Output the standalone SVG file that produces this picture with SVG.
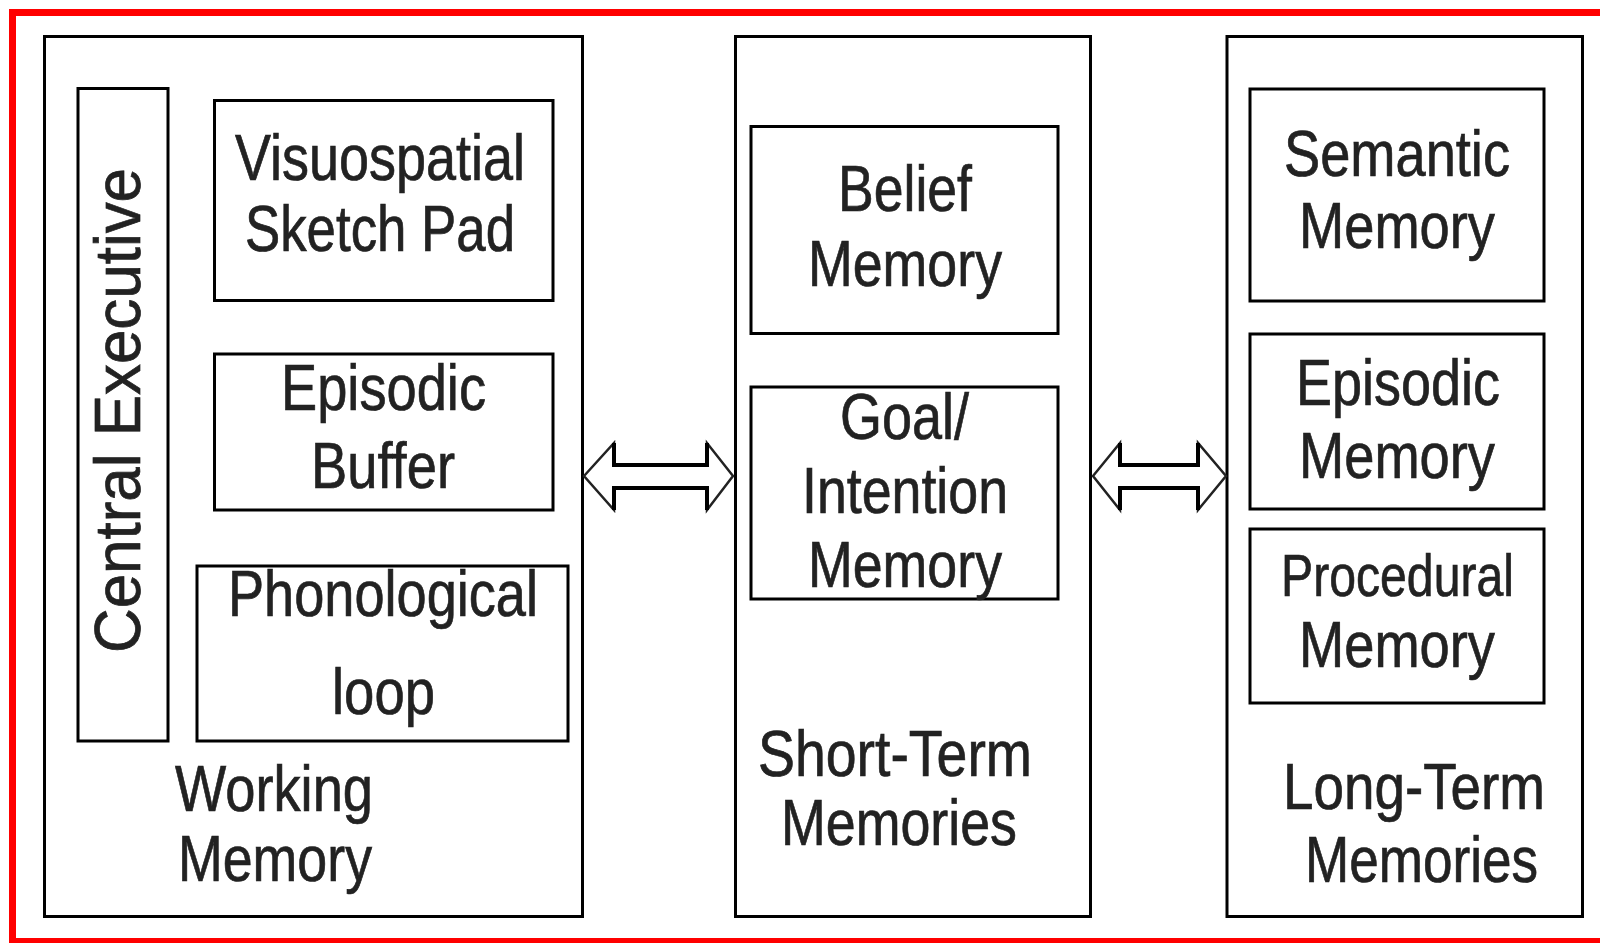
<svg xmlns="http://www.w3.org/2000/svg" width="1600" height="943" viewBox="0 0 1600 943">
<style>
.box{fill:none;stroke:#000;stroke-width:3}
.frame{fill:none;stroke:#ff0000;stroke-width:7}
.t{font-family:"Liberation Sans",Arial,sans-serif;font-size:65px;fill:#222;stroke:#222;stroke-width:0.7}
.arrow{fill:#fff;stroke:#222;stroke-width:2.5;stroke-linejoin:miter}
.shaft{stroke:#000;stroke-width:4;fill:none}
</style>
<rect x="0" y="0" width="1600" height="943" fill="#fff"/>
<rect class="frame" x="12.5" y="12.5" width="1600" height="929"/>

<g id="working-memory">
<rect class="box" x="44.5" y="36.5" width="538" height="880"/>
<text class="t" x="175" y="811" textLength="198" lengthAdjust="spacingAndGlyphs">Working</text>
<text class="t" x="178" y="881" textLength="194" lengthAdjust="spacingAndGlyphs">Memory</text>
</g>
<g id="central-executive">
<rect class="box" x="78" y="88.5" width="90" height="652.5"/>
<text class="t" transform="translate(140,653) rotate(-90)" x="0" y="0" textLength="485" lengthAdjust="spacingAndGlyphs">Central Executive</text>
</g>
<g id="visuospatial">
<rect class="box" x="214.5" y="100.5" width="338.5" height="200"/>
<text class="t" x="235" y="180" textLength="290" lengthAdjust="spacingAndGlyphs">Visuospatial</text>
<text class="t" x="245" y="251" textLength="270" lengthAdjust="spacingAndGlyphs">Sketch Pad</text>
</g>
<g id="episodic-buffer">
<rect class="box" x="214.5" y="354" width="338.5" height="156"/>
<text class="t" x="281" y="410" textLength="205" lengthAdjust="spacingAndGlyphs">Episodic</text>
<text class="t" x="311" y="488" textLength="144" lengthAdjust="spacingAndGlyphs">Buffer</text>
</g>
<g id="phonological-loop">
<rect class="box" x="197" y="566" width="371" height="175"/>
<text class="t" x="228" y="616" textLength="310" lengthAdjust="spacingAndGlyphs">Phonological</text>
<text class="t" x="332" y="714" textLength="103" lengthAdjust="spacingAndGlyphs">loop</text>
</g>

<g id="short-term">
<rect class="box" x="735.5" y="36.5" width="355" height="880"/>
<text class="t" x="758" y="776" textLength="274" lengthAdjust="spacingAndGlyphs">Short-Term</text>
<text class="t" x="781" y="845" textLength="236" lengthAdjust="spacingAndGlyphs">Memories</text>
</g>
<g id="belief-memory">
<rect class="box" x="751" y="126.5" width="307" height="207"/>
<text class="t" x="838" y="211" textLength="134" lengthAdjust="spacingAndGlyphs">Belief</text>
<text class="t" x="808" y="286" textLength="194" lengthAdjust="spacingAndGlyphs">Memory</text>
</g>
<g id="goal-memory">
<rect class="box" x="751" y="387" width="307" height="212"/>
<text class="t" x="840" y="439" textLength="129" lengthAdjust="spacingAndGlyphs">Goal/</text>
<text class="t" x="802" y="513" textLength="206" lengthAdjust="spacingAndGlyphs">Intention</text>
<text class="t" x="808" y="587" textLength="194" lengthAdjust="spacingAndGlyphs">Memory</text>
</g>

<g id="long-term">
<rect class="box" x="1227" y="36.5" width="355.5" height="880"/>
<text class="t" x="1283" y="809" textLength="262" lengthAdjust="spacingAndGlyphs">Long-Term</text>
<text class="t" x="1305" y="882" textLength="233" lengthAdjust="spacingAndGlyphs">Memories</text>
</g>
<g id="semantic-memory">
<rect class="box" x="1250" y="89" width="294" height="212"/>
<text class="t" x="1284" y="176" textLength="226" lengthAdjust="spacingAndGlyphs">Semantic</text>
<text class="t" x="1299" y="248" textLength="196" lengthAdjust="spacingAndGlyphs">Memory</text>
</g>
<g id="episodic-memory">
<rect class="box" x="1250" y="334" width="294" height="175"/>
<text class="t" x="1296" y="405" textLength="204" lengthAdjust="spacingAndGlyphs">Episodic</text>
<text class="t" x="1299" y="478" textLength="196" lengthAdjust="spacingAndGlyphs">Memory</text>
</g>
<g id="procedural-memory">
<rect class="box" x="1250" y="529" width="294" height="174"/>
<text class="t" x="1281" y="596" textLength="233" lengthAdjust="spacingAndGlyphs" style="font-size:60px">Procedural</text>
<text class="t" x="1299" y="667" textLength="196" lengthAdjust="spacingAndGlyphs">Memory</text>
</g>

<g id="connectors">
<polygon class="arrow" points="584,476 614,443 614,465 707,465 707,443 733,476 707,510 707,488 614,488 614,510"/>
<path class="shaft" d="M614,443 V465 H707 V443 M614,510 V488 H707 V510"/>
<polygon class="arrow" points="1093,476 1120,443 1120,465 1198,465 1198,443 1226,476 1198,510 1198,488 1120,488 1120,510"/>
<path class="shaft" d="M1120,443 V465 H1198 V443 M1120,510 V488 H1198 V510"/>
</g>
</svg>
